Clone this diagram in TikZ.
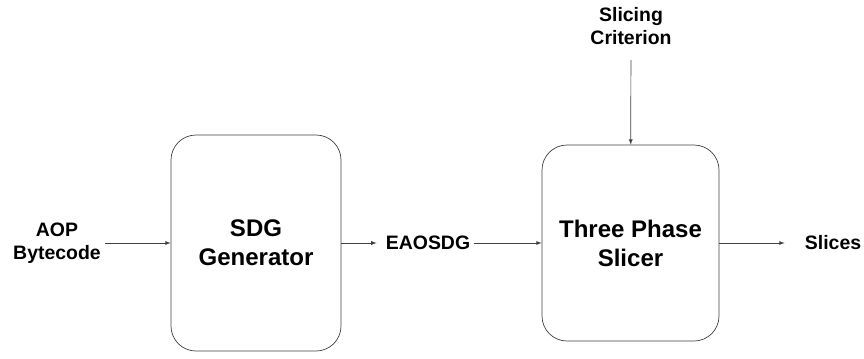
\documentclass[tikz,border=0pt]{standalone}
\usepackage{fontspec}
\setmainfont{Liberation Sans}
\begin{document}
\begin{tikzpicture}[>=latex, x=0.3mm, y=-0.3mm,
    block/.style={draw=black!75, line width=0.6pt, rounded corners=7.5mm, align=center,
      font=\fontsize{20.5}{24.7}\selectfont\bfseries},
    txt/.style={align=center, inner sep=0pt, font=\fontsize{16.6}{19.6}\selectfont\bfseries},
    line/.style={draw=black!75, line width=0.6pt, ->}]
\useasboundingbox (0,0) rectangle (864,358);

\node[block, minimum width=51mm, minimum height=64.8mm] (sdg) at (256,243) {SDG\\Generator};
\node[block, minimum width=53.1mm, minimum height=58.8mm] (slicer) at (630.5,243) {Three Phase\\Slicer};

\node[txt] (aop) at (57,243) {AOP\\Bytecode};
\node[txt] (eaosdg) at (428,243) {EAOSDG};
\node[txt] (slices) at (833,243) {Slices};
\node[txt, anchor=south] (crit) at (631,45) {Slicing\\Criterion};

\draw[line, shorten <=1.2mm] (aop) -- (sdg);
\draw[line, shorten >=2.7mm] (sdg) -- (eaosdg);
\draw[line, shorten <=1mm] (eaosdg) -- (slicer);
\draw[line, shorten >=6mm] (slicer) -- (slices);
\draw[line, shorten <=4.5mm] (crit) -- (slicer);
\end{tikzpicture}
\end{document}
